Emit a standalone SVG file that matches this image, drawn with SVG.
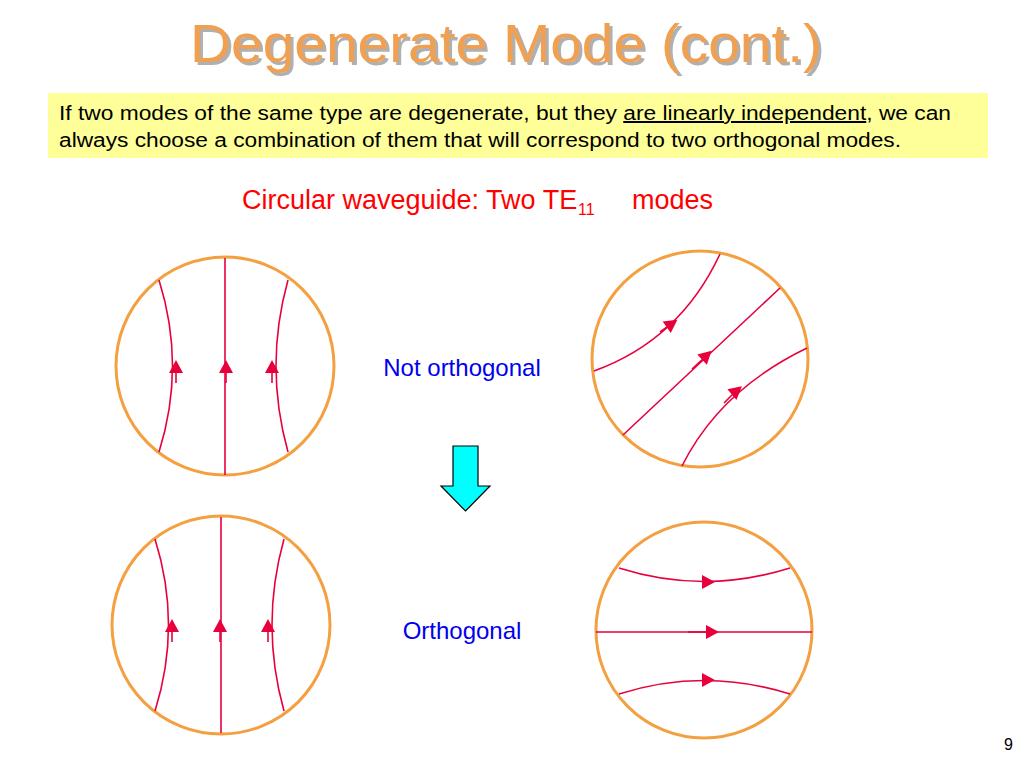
<svg xmlns="http://www.w3.org/2000/svg" width="1024" height="768" viewBox="0 0 1024 768">
<style>
.c{fill:none;stroke:#f4a040;stroke-width:3}
.l{fill:none;stroke:#e8003c;stroke-width:1.6}
.a{fill:#e8003c}
text{font-family:"Liberation Sans",Arial,sans-serif}
</style>
<defs>
<path id="ah" d="M0,-9 L7,4 L-7,4 Z" class="a"/>
</defs>
<rect width="1024" height="768" fill="#fff"/>
<text x="190" y="62" font-size="54" fill="#b0b0b0" transform="translate(3,3)" textLength="632" lengthAdjust="spacingAndGlyphs">Degenerate Mode (cont.)</text>
<text x="190" y="62" font-size="54" fill="#f0a050" textLength="632" lengthAdjust="spacingAndGlyphs">Degenerate Mode (cont.)</text>
<rect x="48" y="93" width="940" height="65" fill="#ffff99"/>
<text x="59" y="120" font-size="20" fill="#000" textLength="892" lengthAdjust="spacingAndGlyphs">If two modes of the same type are degenerate, but they <tspan text-decoration="underline">are linearly independent</tspan>, we can</text>
<text x="59" y="147" font-size="20" fill="#000" textLength="842" lengthAdjust="spacingAndGlyphs">always choose a combination of them that will correspond to two orthogonal modes.</text>
<text x="242" y="209" font-size="27" fill="#ff0000">Circular waveguide:  Two TE</text>
<text x="578" y="215" font-size="16" fill="#ff0000">11</text>
<text x="632" y="209" font-size="27" fill="#ff0000">modes</text>
<text x="462" y="376" font-size="24" fill="#0000ee" text-anchor="middle">Not orthogonal</text>
<text x="462" y="639" font-size="24" fill="#0000ee" text-anchor="middle">Orthogonal</text>
<text x="1013" y="750" font-size="16" fill="#000" text-anchor="end">9</text>
<g id="arrow"><path d="M453,446 H478 V486 H490 L465.5,511 L441,486 H453 Z" fill="#00ffff" stroke="#000" stroke-width="1.2"/></g>
<g id="circle1">
<circle cx="225" cy="366" r="109" class="c"/>
<path class="l" d="M225,258 V475 M159,280 Q186,366 159,452 M288,280 Q264,366 288,452"/>
<use href="#ah" x="176" y="369"/><use href="#ah" x="226" y="369"/><use href="#ah" x="272" y="369"/>
<path class="l" stroke-width="3" d="M176,369 v14 M226,369 v14 M272,369 v14"/>
</g>
<g id="circle2">
<circle cx="700" cy="359" r="108" class="c"/>
<path class="l" d="M594,371 Q680,340 720,254 M623,435 L780,288 M682,466 Q720,390 807,348"/>
<use href="#ah" transform="translate(670,325) rotate(55)"/>
<use href="#ah" transform="translate(705,357) rotate(47)"/>
<use href="#ah" transform="translate(735,392) rotate(50)"/>
<path class="l" stroke-width="3" d="M660,332 L670,325 M692,369 L705,357 M724,403 L735,392"/>
</g>
<g id="circle3">
<circle cx="221" cy="625" r="109" class="c"/>
<path class="l" d="M221,517 V733 M155,539 Q182,625 155,711 M284,539 Q260,625 284,711"/>
<use href="#ah" x="172" y="628"/><use href="#ah" x="220" y="628"/><use href="#ah" x="268" y="628"/>
<path class="l" stroke-width="3" d="M172,628 v14 M220,628 v14 M268,628 v14"/>
</g>
<g id="circle4">
<circle cx="704" cy="630" r="108" class="c"/>
<path class="l" d="M619,568 Q704,595 790,568 M596,632 H812 M619,694 Q704,667 790,694"/>
<use href="#ah" transform="translate(706,582) rotate(90)"/>
<use href="#ah" transform="translate(710,632) rotate(90)"/>
<use href="#ah" transform="translate(706,680) rotate(90)"/>
<path class="l" stroke-width="3" d="M688,632 H706"/>
</g>
</svg>
